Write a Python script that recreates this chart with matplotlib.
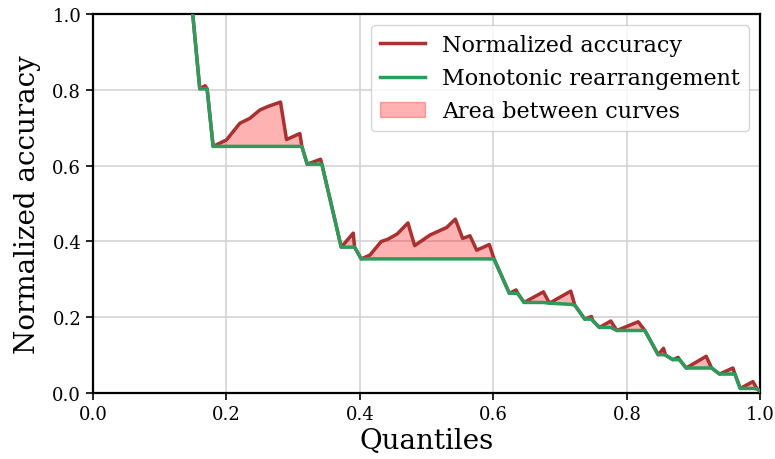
import numpy as np
import matplotlib
matplotlib.use("Agg")
import matplotlib.pyplot as plt

# quantile positions (vertices)
quantiles = [0.14, 0.15, 0.16, 0.168, 0.171, 0.18, 0.20, 0.22, 0.235, 0.25,
             0.263, 0.281, 0.290, 0.310, 0.313, 0.321, 0.341, 0.343, 0.372, 0.390,
             0.392, 0.402, 0.415, 0.432, 0.442, 0.456, 0.472, 0.482, 0.505, 0.530,
             0.543, 0.554, 0.565, 0.575, 0.594, 0.601, 0.624, 0.634, 0.637, 0.646,
             0.675, 0.684, 0.716, 0.722, 0.737, 0.747, 0.749, 0.759, 0.776, 0.785,
             0.817, 0.827, 0.847, 0.855, 0.858, 0.869, 0.877, 0.879, 0.889, 0.919,
             0.927, 0.939, 0.959, 0.962, 0.970, 0.989, 0.995, 1.0]

norm_acc = [1.18, 0.99, 0.803, 0.811, 0.803, 0.651, 0.668, 0.712, 0.725, 0.747,
            0.757, 0.768, 0.669, 0.685, 0.651, 0.604, 0.617, 0.604, 0.385, 0.422,
            0.385, 0.354, 0.364, 0.400, 0.406, 0.420, 0.449, 0.389, 0.417, 0.437,
            0.459, 0.408, 0.415, 0.377, 0.392, 0.354, 0.263, 0.272, 0.262, 0.239,
            0.267, 0.237, 0.269, 0.232, 0.195, 0.202, 0.191, 0.173, 0.190, 0.165,
            0.188, 0.165, 0.101, 0.118, 0.100, 0.088, 0.094, 0.088, 0.066, 0.097,
            0.066, 0.050, 0.066, 0.050, 0.012, 0.030, 0.011, 0.005]

mono = [1.18, 0.99, 0.803, 0.803, 0.803, 0.651, 0.651, 0.651, 0.651, 0.651,
        0.651, 0.651, 0.651, 0.651, 0.651, 0.604, 0.604, 0.604, 0.385, 0.385,
        0.385, 0.354, 0.354, 0.354, 0.354, 0.354, 0.354, 0.354, 0.354, 0.354,
        0.354, 0.354, 0.354, 0.354, 0.354, 0.354, 0.263, 0.263, 0.262, 0.239,
        0.239, 0.237, 0.234, 0.232, 0.195, 0.195, 0.191, 0.173, 0.173, 0.165,
        0.165, 0.165, 0.101, 0.101, 0.100, 0.088, 0.088, 0.088, 0.066, 0.066,
        0.066, 0.050, 0.050, 0.050, 0.012, 0.012, 0.011, 0.005]

plt.rcParams['font.family'] = ['DejaVu Serif']

x = np.array(quantiles)
y_acc = np.array(norm_acc)
y_mono = np.array(mono)

fig = plt.figure(figsize=(7.75, 4.6), dpi=100)
ax = fig.add_axes([0.12, 0.1435, 0.861, 0.8235])

ax.grid(True, color='#d3d3d3', linewidth=1.2, zorder=0)
ax.fill_between(x, y_acc, y_mono, color='red', alpha=0.3, label='Area between curves', zorder=2)
ax.plot(x, y_acc, color='#a83232', linewidth=2.5, label='Normalized accuracy', zorder=3)
ax.plot(x, y_mono, color='#2e9a5c', linewidth=2.5, label='Monotonic rearrangement', zorder=4)

ax.set_xlim(0, 1)
ax.set_ylim(0, 1)
ax.set_xticks([0.0, 0.2, 0.4, 0.6, 0.8, 1.0])
ax.set_yticks([0.0, 0.2, 0.4, 0.6, 0.8, 1.0])
ax.tick_params(labelsize=13, width=1.2, length=5)
for s in ax.spines.values():
    s.set_linewidth(1.6)
ax.set_xlabel('Quantiles', fontsize=20, labelpad=3)
ax.set_ylabel('Normalized accuracy', fontsize=20, labelpad=8)

# legend order: two lines then the filled patch
h, l = ax.get_legend_handles_labels()
order = [1, 2, 0]
ax.legend([h[i] for i in order], [l[i] for i in order], loc='upper right',
          fontsize=16, framealpha=0.8)

fig.savefig('out.png', dpi=100)
